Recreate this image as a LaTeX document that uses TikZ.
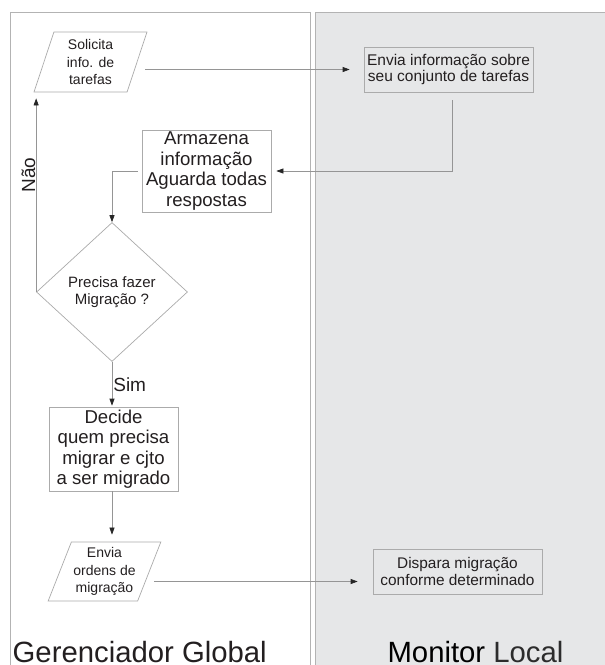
\documentclass[tikz,border=0pt]{standalone}
\usepackage{fontspec}
\setmainfont{Liberation Sans}
\usetikzlibrary{shapes.geometric,arrows.meta}
\definecolor{txt}{HTML}{231F20}
\definecolor{txtlight}{HTML}{2C2C2C}
\definecolor{panelfill}{HTML}{E6E7E8}
\definecolor{border}{HTML}{B3B3B3}
\definecolor{shapeline}{HTML}{ABABAB}
\definecolor{connline}{HTML}{959595}
\tikzset{
  shp/.style={draw=shapeline, line width=0.7pt, text=txt, align=center, inner sep=2pt},
  boxs/.style={shp, rectangle},
  para/.style={shp, trapezium, trapezium stretches body, font=\fontsize{14}{17.5}\selectfont},
  conn/.style={draw=connline, line width=0.7pt, -{Triangle[length=7pt,width=5pt,color=black!85]}},
  lbl/.style={text=txt, inner sep=0pt, font=\fontsize{29.3}{30}\selectfont},
  lblsmall/.style={text=txt, font=\fontsize{19}{20}\selectfont},
  panel/.style={draw=border, line width=0.8pt}
}
\begin{document}
\begin{tikzpicture}[x=1pt,y=-1pt]
\useasboundingbox (0,0) rectangle (605,665);
\begin{scope}
  \clip (0,0) rectangle (605,665);
  \draw[panel, fill=white] (10.5,12.5) rectangle (310.5,700);
  \draw[panel, fill=panelfill] (315.5,12.5) rectangle (640,700);
\end{scope}

\node[para, trapezium left angle=68, trapezium right angle=112,
      minimum width=113pt, minimum height=60pt] (p1) at (90.5,62) {Solicita\\info. de\\tarefas};
\node[boxs, fill=panelfill, minimum width=169pt, minimum height=45pt,
      font=\fontsize{15.5}{16}\selectfont] (env) at (448.5,69.5) {Envia informação sobre\\seu conjunto de tarefas};
\node[boxs, minimum width=129pt, minimum height=82pt,
      font=\fontsize{18.6}{20.5}\selectfont] (arm) at (206.5,171) {Armazena\\informação\\Aguarda todas\\respostas};
\node[shp, diamond, inner sep=0pt, minimum width=151pt, minimum height=139pt,
      font=\fontsize{15}{17}\selectfont] (dia) at (112,292) {Precisa fazer\\Migração ?};
\node[boxs, minimum width=129pt, minimum height=84pt,
      font=\fontsize{18.6}{20.5}\selectfont] (dec) at (113.5,449) {Decide\\quem precisa\\migrar e cjto\\a ser migrado};
\node[para, trapezium left angle=66, trapezium right angle=114,
      minimum width=111pt, minimum height=59pt] (p2) at (104.5,571.5) {Envia\\ordens de\\migração};
\node[boxs, fill=panelfill, minimum width=169pt, minimum height=45pt,
      font=\fontsize{15.4}{17}\selectfont] (dis) at (457.5,571.5) {Dispara migração\\conforme determinado};

\node[lbl, anchor=base west] (gg) at (12.5,662) {Gerenciador Global};
\node[lbl, anchor=base] (ml) at (475.5,662) {\textcolor{black}{Monitor} \textcolor{txtlight}{Local}};

\draw[conn, shorten <=8pt, shorten >=14pt] (p1.east |- env.west) -- (env.west);
\draw[conn, shorten <=8pt, shorten >=5pt] ([xshift=3.5pt]env.south) |- (arm.east);
\draw[conn, shorten <=4pt] (arm.west) -| (dia.north);
\draw[conn, shorten >=6pt] (dia.west) -- (dia.west |- p1.south);
\node[lblsmall, rotate=90, anchor=base, inner sep=0pt] (nao) at (35,175) {Não};
\draw[conn, shorten >=1pt] (dia.south) -- (dia.south |- dec.north)
  node[midway, right, inner sep=1pt, lblsmall] (sim) {Sim};
\draw[conn, shorten >=7pt] ([xshift=-1.5pt]dec.south) -- ([xshift=-1.5pt]dec.south |- p2.north);
\draw[conn, shorten <=4.5pt, shorten >=15pt] ([yshift=-10pt]p2.east) -- ([yshift=-10pt]dis.west);
\end{tikzpicture}
\end{document}
